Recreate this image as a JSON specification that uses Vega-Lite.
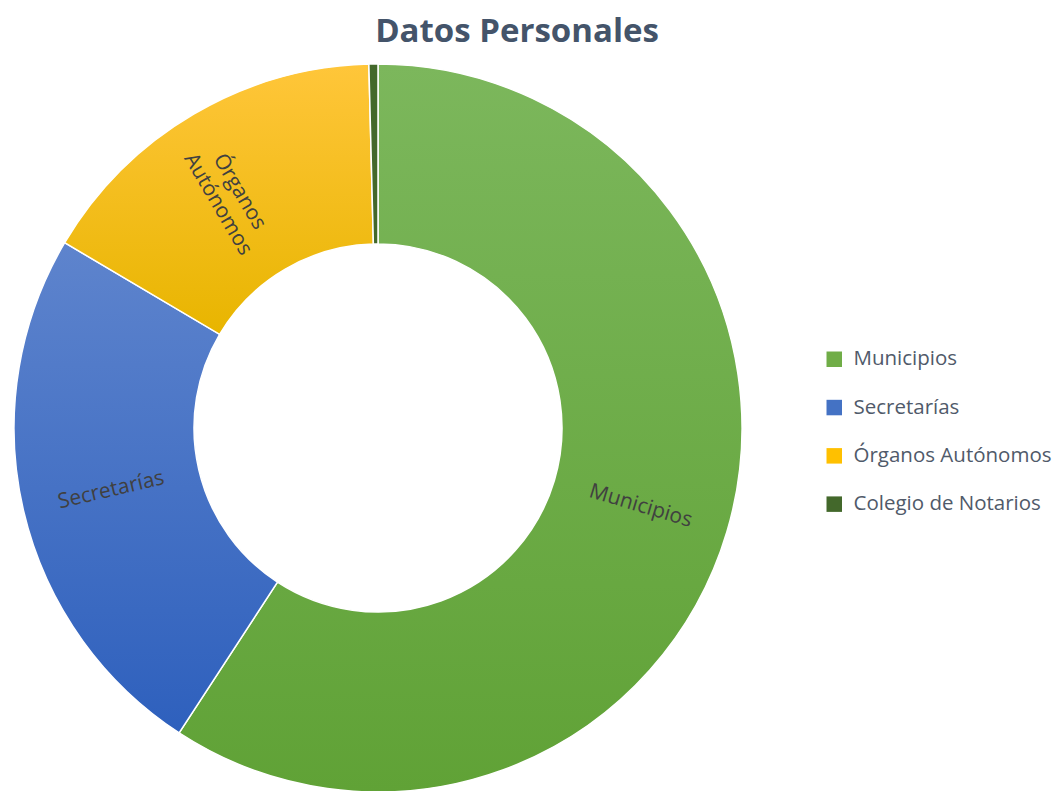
{
  "$schema": "https://vega.github.io/schema/vega-lite/v6.json",
  "width": 756,
  "height": 728,
  "autosize": {"type": "none"},
  "padding": {"left": 0, "top": 64, "right": 299, "bottom": 0},
  "background": "white",
  "title": {"text": "Datos Personales", "font": "Open Sans", "fontSize": 33, "fontWeight": "bold", "color": "#44546A", "anchor": "middle", "dx": 139, "offset": 12},
  "data": {"values": [
    {"categoria": "Municipios", "porcentaje": 59.2, "orden": 1},
    {"categoria": "Secretarías", "porcentaje": 24.3, "orden": 2},
    {"categoria": "Órganos Autónomos", "porcentaje": 16.1, "orden": 3},
    {"categoria": "Colegio de Notarios", "porcentaje": 0.4, "orden": 4}
  ]},
  "encoding": {
    "theta": {"field": "porcentaje", "type": "quantitative", "stack": true},
    "order": {"field": "orden", "type": "quantitative"}
  },
  "layer": [
    {
      "mark": {"type": "arc", "outerRadius": 364, "innerRadius": 184, "stroke": "white", "strokeWidth": 1.5},
      "encoding": {
        "color": {
          "condition": [
            {"test": "datum.categoria === 'Municipios'", "value": {"gradient": "linear", "x1": 0, "y1": 0, "x2": 0, "y2": 1, "stops": [{"offset": 0, "color": "#7CB75C"}, {"offset": 1, "color": "#60A236"}]}},
            {"test": "datum.categoria === 'Secretarías'", "value": {"gradient": "linear", "x1": 0, "y1": 0, "x2": 0, "y2": 1, "stops": [{"offset": 0, "color": "#5E84CD"}, {"offset": 1, "color": "#2E60BD"}]}},
            {"test": "datum.categoria === 'Órganos Autónomos'", "value": {"gradient": "linear", "x1": 0, "y1": 0, "x2": 0, "y2": 1, "stops": [{"offset": 0, "color": "#FFC63A"}, {"offset": 1, "color": "#E8B500"}]}}
          ],
          "field": "categoria",
          "type": "nominal",
          "sort": ["Municipios", "Secretarías", "Órganos Autónomos", "Colegio de Notarios"],
          "scale": {
            "domain": ["Municipios", "Secretarías", "Órganos Autónomos", "Colegio de Notarios"],
            "range": ["#70AD47", "#4472C4", "#FFC000", "#43682B"]
          },
          "legend": {
            "orient": "none",
            "legendX": 824,
            "legendY": 285,
            "title": null,
            "symbolType": "square",
            "symbolSize": 240,
            "symbolStrokeWidth": 0,
            "labelFont": "Open Sans",
            "labelFontSize": 20.5,
            "labelColor": "#505A6A",
            "labelOffset": 9,
            "labelLimit": 300,
            "rowPadding": 27.3,
            "padding": 0
          }
        }
      }
    },
    {
      "mark": {"type": "text", "radius": 274, "font": "Open Sans", "fontSize": 21, "color": "#404040", "lineBreak": " ", "lineHeight": 25, "align": "center", "baseline": "middle"},
      "encoding": {
        "text": {"condition": {"test": "datum.categoria === 'Colegio de Notarios'", "value": ""}, "field": "categoria", "type": "nominal"},
        "angle": {
          "condition": [
            {"test": "datum.categoria === 'Municipios'", "value": 16.6},
            {"test": "datum.categoria === 'Secretarías'", "value": -13.1},
            {"test": "datum.categoria === 'Órganos Autónomos'", "value": 59.6}
          ],
          "value": 0
        }
      }
    }
  ],
  "config": {"view": {"stroke": null}}
}
